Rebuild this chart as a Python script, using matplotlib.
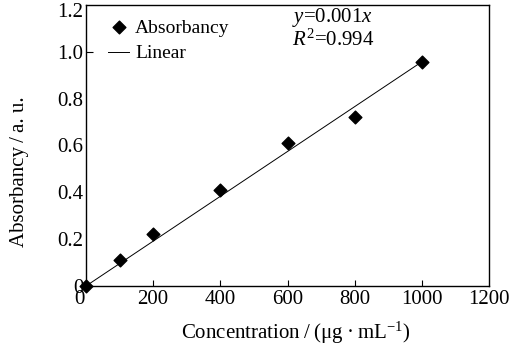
import numpy as np
import matplotlib
matplotlib.use("Agg")
import matplotlib.pyplot as plt
import matplotlib.transforms as mtransforms

conc = [0, 100, 200, 400, 600, 800, 1000]
absorb = [0.0, 0.11, 0.22, 0.41, 0.61, 0.72, 0.955]
xticks = [0, 200, 400, 600, 800, 1000, 1200]
yticks = [0, 0.2, 0.4, 0.6, 0.8, 1.0, 1.2]
ytick_labels = ["0", "0.2", "0.4", "0.6", "0.8", "1.0", "1.2"]

plt.rcParams['font.family'] = ['Liberation Serif', 'DejaVu Serif']
plt.rcParams['mathtext.fontset'] = 'custom'
plt.rcParams['mathtext.rm'] = 'Liberation Serif'
plt.rcParams['mathtext.it'] = 'Liberation Serif:italic'

fig = plt.figure(figsize=(5.28, 3.51), dpi=100)
ax = fig.add_axes([86/528, 1-286/351, (489-86)/528, (286-5)/351])

x = np.array(conc, float)
y = np.array(absorb, float)
slope = np.sum(x*y)/np.sum(x*x)
xl = np.array([0, 1000.0])
ax.plot(xl, slope*xl, color='black', lw=0.7, label='Linear', zorder=2)
ax.scatter(x, y, marker='D', s=42, color='black', label='Absorbancy', zorder=3, clip_on=False)

ax.set_xlim(0, 1200)
ax.set_ylim(0, 1.2)
ax.set_xticks(xticks)
ax.set_xticklabels([str(t) for t in xticks])
ax.set_yticks(yticks)
ax.set_yticklabels(ytick_labels)
ax.tick_params(axis='x', direction='in', length=4, width=0.8, labelsize=15, pad=3)
ax.tick_params(axis='y', direction='in', length=5, width=0.8, labelsize=15, pad=2)
for i, t in enumerate(ax.yaxis.get_major_ticks()):
    if yticks[i] != 1.0:
        t.tick1line.set_visible(False)
for i, t in enumerate(ax.xaxis.get_major_ticks()):
    if xticks[i] in (0, 1200):
        t.tick1line.set_visible(False)
# shift x "0" label left, and top y label down
lab0 = ax.get_xticklabels()[0]
lab0.set_transform(lab0.get_transform() + mtransforms.ScaledTranslation(-7/100, 0, fig.dpi_scale_trans))
labtop = ax.get_yticklabels()[-1]
labtop.set_transform(labtop.get_transform() + mtransforms.ScaledTranslation(0, -5/100, fig.dpi_scale_trans))

for s in ax.spines.values():
    s.set_linewidth(1.0)

ax.set_xlabel('Concentration\u2009/\u2009(μg\u2009·\u2009mL$^{-1}$)', fontsize=15)
ax.set_ylabel('Absorbancy\u2009/\u2009a. u.', fontsize=15)
ax.xaxis.set_label_coords((296-86)/403, (286-320)/281)
ax.yaxis.set_label_coords((29-86)/403, (286-172)/281)

h, l = ax.get_legend_handles_labels()
ax.legend(h[::-1], l[::-1], loc='upper left', frameon=False, fontsize=14,
          bbox_to_anchor=(0.03, 0.985), handlelength=1.1, handletextpad=0.3,
          labelspacing=0.42, borderaxespad=0.1)

ax.text(0.51, 0.995, '$y$=0.001$x$\n$R^2$=0.994', transform=ax.transAxes,
        ha='left', va='top', fontsize=15, linespacing=1.0)

fig.savefig('out.png', dpi=100)
